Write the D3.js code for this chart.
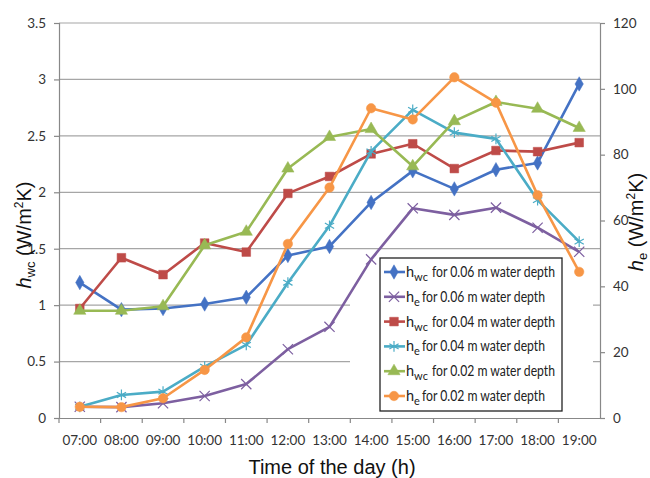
<!DOCTYPE html>
<html><head><meta charset="utf-8">
<script src="https://cdn.jsdelivr.net/npm/d3@7"></script>
<style>body{margin:0;background:#fff}svg{display:block}</style>
</head><body>
<svg id="c" width="650" height="478"></svg>
<script>
const hours = ["07:00","08:00","09:00","10:00","11:00","12:00","13:00","14:00","15:00","16:00","17:00","18:00","19:00"];
const hwc006 = [1.20,0.96,0.97,1.01,1.07,1.44,1.52,1.91,2.19,2.03,2.20,2.26,2.96];
const he006  = [3.4,3.3,4.5,6.7,10.3,20.9,27.7,48.2,63.7,61.7,63.9,57.8,50.5];
const hwc004 = [0.97,1.42,1.27,1.55,1.47,1.99,2.14,2.34,2.43,2.21,2.37,2.36,2.44];
const he004  = [3.4,7.0,8.0,15.6,22.2,41.1,58.4,81.0,93.6,86.7,84.8,66.2,53.6];
const hwc002 = [0.95,0.95,0.99,1.53,1.65,2.21,2.49,2.56,2.23,2.63,2.80,2.74,2.57];
const he002  = [3.4,3.3,6.0,14.6,24.5,52.9,70.0,94.1,90.7,103.5,95.8,67.7,44.4];
const leftTicks = [0,0.5,1,1.5,2,2.5,3,3.5];
const rightTicks = [0,20,40,60,80,100,120];

const series = [
  {sub:"wc", depth:"0.06", vals:hwc006, axis:"L", color:"#4472c4", sym:d3.symbolDiamond, size:60, filled:true},
  {sub:"e",  depth:"0.06", vals:he006,  axis:"R", color:"#7d5fa0", sym:d3.symbolTimes, size:70, filled:false},
  {sub:"wc", depth:"0.04", vals:hwc004, axis:"L", color:"#be4b48", sym:d3.symbolSquare, size:75, filled:true},
  {sub:"e",  depth:"0.04", vals:he004,  axis:"R", color:"#4bacc6", sym:d3.symbolAsterisk, size:80, filled:false},
  {sub:"wc", depth:"0.02", vals:hwc002, axis:"L", color:"#98b954", sym:d3.symbolTriangle, size:65, filled:true},
  {sub:"e",  depth:"0.02", vals:he002,  axis:"R", color:"#f79646", sym:d3.symbolCircle, size:70, filled:true}
];

const svg = d3.select("#c");
const L=59, R=600, T=23, B=418;
const x = d3.scaleBand().domain(hours).range([L,R]);
const yL = d3.scaleLinear().domain([0,3.5]).range([B,T]);
const yR = d3.scaleLinear().domain([0,120]).range([B,T]);
const font = "Lato,'Open Sans',sans-serif";
const gridC = "#a6a6a6";

svg.append("g").selectAll("line").data(leftTicks.filter(d=>d>0)).join("line")
  .attr("x1",L).attr("x2",R).attr("y1",d=>yL(d)).attr("y2",d=>yL(d))
  .attr("stroke",gridC).attr("stroke-width",1.2);
svg.append("rect").attr("x",350).attr("y",yL(1.5)+6).attr("width",243).attr("height",B-yL(1.5)-8).attr("fill","#fff");

const gl = svg.append("g").attr("transform",`translate(${L},0)`)
  .call(d3.axisLeft(yL).tickValues(leftTicks).tickSize(5).tickPadding(8).tickFormat(d3.format("")));
const gr = svg.append("g").attr("transform",`translate(${R},0)`)
  .call(d3.axisRight(yR).tickValues(rightTicks).tickSize(5).tickPadding(8));
const gb = svg.append("g").attr("transform",`translate(0,${B})`)
  .call(d3.axisBottom(x).tickSize(0).tickPadding(17));
gb.selectAll(".tick").append("line").attr("x1",-x.bandwidth()/2).attr("x2",-x.bandwidth()/2).attr("y2",5);
gb.append("line").attr("x1",R).attr("x2",R).attr("y2",5);
[gl,gr,gb].forEach(g=>{
  g.select(".domain").attr("stroke","#888").attr("stroke-width",1.2);
  g.selectAll(".tick line").attr("stroke","#888").attr("stroke-width",1.2);
  g.selectAll("text").attr("font-family",font).attr("font-size",13.5).attr("fill","#333");
});

const cx = d=>x(d)+x.bandwidth()/2;
series.forEach(s=>{
  const y = s.axis==="L"?yL:yR;
  const pts = hours.map((h,i)=>[cx(h),y(s.vals[i])]);
  svg.append("path").attr("d",d3.line()(pts)).attr("fill","none")
    .attr("stroke",s.color).attr("stroke-width",2.6).attr("stroke-linejoin","round");
  svg.append("g").selectAll("path").data(pts).join("path")
    .attr("transform",p=>`translate(${p[0]},${p[1]})`)
    .attr("d",d3.symbol(s.sym,s.size))
    .attr("fill",s.filled?s.color:"none").attr("stroke",s.color).attr("stroke-width",s.filled?0.5:1.2);
});

const lg = svg.append("g");
lg.append("rect").attr("x",380).attr("y",258).attr("width",182).attr("height",153)
  .attr("fill","#fff").attr("stroke","#222").attr("stroke-width",1.3);
series.forEach((s,i)=>{
  const yy = 272 + i*24.8;
  lg.append("line").attr("x1",384).attr("x2",405).attr("y1",yy).attr("y2",yy).attr("stroke",s.color).attr("stroke-width",2.6);
  lg.append("path").attr("transform",`translate(394,${yy})`).attr("d",d3.symbol(s.sym,s.size))
    .attr("fill",s.filled?s.color:"none").attr("stroke",s.color).attr("stroke-width",s.filled?0.5:1.2);
  const t = lg.append("text").attr("x",406).attr("y",yy+5).attr("font-family",font).attr("font-size",14.5).attr("fill","#222");
  t.append("tspan").text("h");
  t.append("tspan").attr("dy",4).attr("font-size",11).text(s.sub);
  lg.append("text").attr("x",s.sub==="wc"?432:422).attr("y",yy+5).attr("font-family",font).attr("font-size",14.5)
    .attr("fill","#222").attr("textLength",123).attr("lengthAdjust","spacingAndGlyphs")
    .text(`for ${s.depth} m water depth`);
});

const tfont = "'Liberation Sans',Arial,sans-serif";
const lt = svg.append("text").attr("transform","translate(31,235) rotate(-90)").attr("text-anchor","middle")
  .attr("font-family",tfont).attr("font-size",20).attr("fill","#111");
lt.append("tspan").attr("font-style","italic").text("h");
lt.append("tspan").attr("dy",4).attr("font-size",13).text("wc");
lt.append("tspan").attr("dy",-4).text(" (W/m");
lt.append("tspan").attr("dy",-8).attr("font-size",12).text("2");
lt.append("tspan").attr("dy",8).text("K)");

const rt = svg.append("text").attr("transform","translate(643,222) rotate(-90)").attr("text-anchor","middle")
  .attr("font-family",tfont).attr("font-size",20).attr("fill","#111");
rt.append("tspan").attr("font-style","italic").text("h");
rt.append("tspan").attr("dy",4).attr("font-size",13).text("e");
rt.append("tspan").attr("dy",-4).text(" (W/m");
rt.append("tspan").attr("dy",-8).attr("font-size",12).text("2");
rt.append("tspan").attr("dy",8).text("K)");

svg.append("text").attr("x",332).attr("y",474).attr("text-anchor","middle")
  .attr("font-family",tfont).attr("font-size",20).attr("fill","#111").text("Time of the day (h)");
</script>
</body></html>
